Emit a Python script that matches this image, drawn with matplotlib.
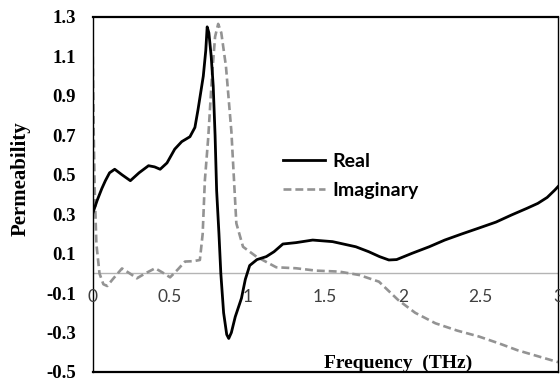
import matplotlib
matplotlib.use("Agg")
import matplotlib.pyplot as plt
from matplotlib.lines import Line2D

# Real part of permeability
real_f = [0.0, 0.0, 0.004, 0.03, 0.06, 0.083, 0.11, 0.143, 0.19, 0.244, 0.30,
          0.361, 0.40, 0.436, 0.48, 0.53, 0.575, 0.628, 0.66, 0.68, 0.70,
          0.714, 0.73, 0.739, 0.75, 0.765, 0.778, 0.79, 0.80, 0.815, 0.827,
          0.845, 0.865, 0.878, 0.895, 0.92, 0.96, 0.985, 1.013, 1.06, 1.12,
          1.17, 1.227, 1.312, 1.419, 1.547, 1.697, 1.78, 1.85, 1.91, 1.96,
          2.06, 2.17, 2.27, 2.38, 2.487, 2.6, 2.7, 2.8, 2.87, 2.93, 2.98, 3.0]
real_v = [-0.40, 0.30, 0.31, 0.37, 0.43, 0.47, 0.51, 0.528, 0.50, 0.47, 0.51,
          0.546, 0.54, 0.528, 0.56, 0.63, 0.668, 0.693, 0.74, 0.83, 0.93,
          1.00, 1.13, 1.25, 1.22, 1.10, 0.95, 0.70, 0.42, 0.20, 0.0,
          -0.20, -0.31, -0.33, -0.30, -0.22, -0.126, -0.03, 0.04, 0.07, 0.085,
          0.11, 0.149, 0.156, 0.169, 0.161, 0.135, 0.11, 0.085, 0.068, 0.07,
          0.102, 0.135, 0.169, 0.20, 0.229, 0.26, 0.296, 0.33, 0.355, 0.385, 0.423, 0.44]

# Imaginary part of permeability
imag_f = [0.0, 0.008, 0.015, 0.025, 0.045, 0.07, 0.095, 0.13, 0.19, 0.24,
          0.286, 0.34, 0.404, 0.45, 0.5, 0.55, 0.596, 0.65, 0.692, 0.71,
          0.724, 0.746, 0.77, 0.79, 0.81, 0.83, 0.86, 0.895, 0.927, 0.97,
          1.056, 1.184, 1.312, 1.44, 1.59, 1.718, 1.846, 1.97, 2.08, 2.21,
          2.35, 2.49, 2.62, 2.74, 2.87, 3.0]
imag_v = [1.22, 0.70, 0.40, 0.15, 0.0, -0.055, -0.064, -0.03, 0.025, 0.0,
          -0.025, 0.0, 0.026, 0.005, -0.02, 0.02, 0.06, 0.062, 0.068, 0.20,
          0.47, 0.69, 1.00, 1.20, 1.265, 1.22, 1.05, 0.72, 0.254, 0.135,
          0.085, 0.031, 0.026, 0.014, 0.009, -0.008, -0.042, -0.135, -0.20, -0.253,
          -0.29, -0.32, -0.355, -0.39, -0.42, -0.45]

y_ticks = [-0.5, -0.3, -0.1, 0.1, 0.3, 0.5, 0.7, 0.9, 1.1, 1.3]
x_ticks = [0, 0.5, 1, 1.5, 2, 2.5, 3]
x_labels = ["0", "0.5", "1", "1.5", "2", "2.5", "3"]

SERIF = "Liberation Serif"
SANS = "Lato"
IMAG_GRAY = "#939393"

fig = plt.figure(figsize=(5.6, 3.78), dpi=100)
ax = fig.add_axes([92.5 / 560, 6 / 378, (558 - 92.5) / 560, (372 - 17) / 378])
ax.set_xlim(0, 3)
ax.set_ylim(-0.5, 1.3)

# zero line (excel style axis)
ax.axhline(0, color="#b4b4b4", lw=1.0, zorder=1)

ax.plot(real_f, real_v, color="black", lw=2.0, zorder=3,
        solid_joinstyle="round")
ax.plot(imag_f, imag_v, color=IMAG_GRAY, lw=1.9, zorder=2,
        dashes=(3.0, 1.5))

for side in ["top", "bottom", "left", "right"]:
    ax.spines[side].set_color("black")
ax.spines["top"].set_linewidth(1.6)
ax.spines["bottom"].set_linewidth(1.6)
ax.spines["left"].set_linewidth(1.0)
ax.spines["right"].set_linewidth(1.0)

ax.set_yticks(y_ticks)
ax.set_yticklabels([f"{t:.1f}" for t in y_ticks], fontfamily=SERIF,
                   fontweight="bold", fontsize=13.5)
ax.tick_params(axis="y", length=0, pad=12)
ax.set_xticks([])

# x tick labels next to the zero line
for xv, lab in zip(x_ticks, x_labels):
    ax.text(xv, -0.12, lab, ha="center", va="center", fontfamily=SANS,
            fontsize=12.5, color="#404040", zorder=4)

ax.text(-0.466, 0.48, "Permeability", rotation=90, ha="center", va="center",
        fontfamily=SERIF, fontweight="bold", fontsize=15, clip_on=False)
ax.text(1.97, -0.455, "Frequency  (THz)", ha="center", va="center",
        fontfamily=SERIF, fontweight="bold", fontsize=14)

handles = [
    Line2D([0], [0], color="black", lw=2.0, label="Real"),
    Line2D([0], [0], color=IMAG_GRAY, lw=1.9, dashes=(3.0, 1.5), label="Imaginary"),
]
leg = ax.legend(handles=handles, loc="upper left",
                bbox_to_anchor=(0.392, 0.64), frameon=False,
                prop={"family": SANS, "weight": "bold", "size": 14},
                handlelength=2.16, handletextpad=0.41, labelspacing=0.62,
                borderaxespad=0)

fig.savefig("out.png", dpi=100)
